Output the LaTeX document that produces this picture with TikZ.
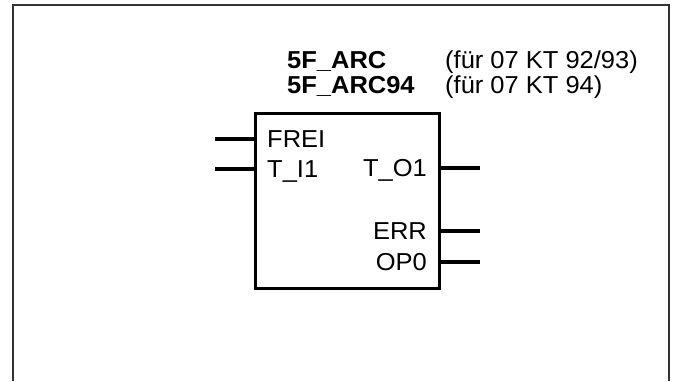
\documentclass[tikz,border=0pt]{standalone}
\usepackage{fontspec}
\setmainfont{Liberation Sans}[FakeStretch=1.04]
\usepackage{tikz}

\begin{document}
\begin{tikzpicture}[x=1pt,y=-1pt,
  pin/.style={line width=3.5pt},
  lbl/.style={font=\fontsize{24.5}{28}\selectfont,inner sep=0pt,anchor=base west},
  ttl/.style={lbl,font=\fontsize{24.5}{28}\selectfont\bfseries}]
  \useasboundingbox (0,0) rectangle (674,381);
  % Frame
  \draw[line width=1.5pt,black!80] (13,381) -- (13,5) -- (669,5) -- (669,381);
  % Block
  \node[draw,line width=3pt,outer sep=0pt,minimum width=184pt,minimum height=175pt] (arc) at (347,200.5) {};
  % Titles
  \node[ttl] (name1) at (287,68) {5F\_ARC};
  \node[ttl] (name2) at (287,93) {5F\_ARC94};
  \node[lbl] (note1) at (445,68) {(für 07 KT 92/93)};
  \node[lbl] (note2) at (445,93) {(für 07 KT 94)};
  % Inputs
  \coordinate (frei) at (215,139);
  \coordinate (ti1) at (215,169);
  \node[lbl] (lfrei) at (267,147.5) {FREI};
  \node[lbl] (lti1) at (267,177.5) {T\_I1};
  \draw[pin] (frei) -- (frei -| arc.west);
  \draw[pin] (ti1) -- (ti1 -| arc.west);
  % Outputs
  \coordinate (to1) at (480,168);
  \coordinate (err) at (480,231);
  \coordinate (op0) at (480,262);
  \node[lbl,anchor=base east] (lto1) at (427,176.5) {T\_O1};
  \node[lbl,anchor=base east] (lerr) at (427,239.5) {ERR};
  \node[lbl,anchor=base east] (lop0) at (427,270.5) {OP0};
  \draw[pin] (to1 -| arc.east) -- (to1);
  \draw[pin] (err -| arc.east) -- (err);
  \draw[pin] (op0 -| arc.east) -- (op0);
\end{tikzpicture}
\end{document}
